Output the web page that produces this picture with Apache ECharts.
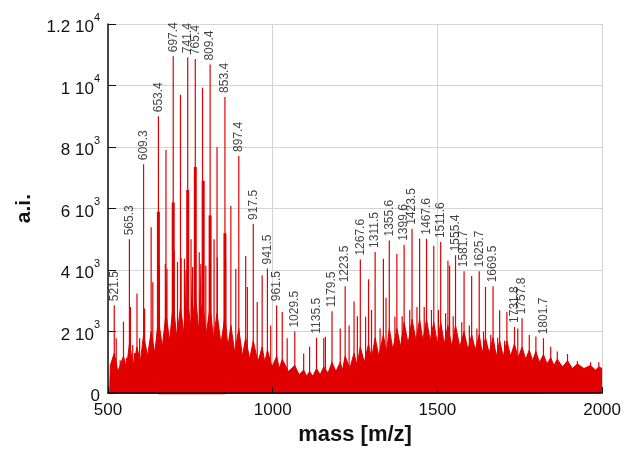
<!DOCTYPE html>
<html>
<head>
<meta charset="utf-8">
<script src="https://cdn.jsdelivr.net/npm/echarts@6/dist/echarts.min.js"></script>
<style>
html,body{margin:0;padding:0;background:#fff;}
#chart{width:624px;height:451px;}
</style>
</head>
<body>
<div id="chart"></div>
<script>
// ---- tick labels ----
const yTickValues = [0, 2000, 4000, 6000, 8000, 10000, 12000];
const yTickMant = ['0', '2 10', '4 10', '6 10', '8 10', '1 10', '1.2 10'];
const yTickExp = ['', '3', '3', '3', '3', '4', '4'];
const xTickValues = [500, 1000, 1500, 2000];

// ---- labelled peaks (position on the drawn m/z axis, intensity, label) ----
const labelText = ['521.5','565.3','609.3','653.4','697.4','741.4','765.4','809.4','853.4','897.4',
  '917.5','941.5','961.5','1029.5','1135.5','1179.5','1223.5','1267.6','1311.5','1355.6',
  '1399.6','1423.5','1467.6','1511.6','1555.4','1581.7','1625.7','1669.5','1731.8','1757.8','1801.7'];
const labelPos = [519,565,608,653,698,742,765,810,855,897,
  941,984,1012,1067,1133,1180,1220,1266,1311,1354,
  1399,1423,1467,1510,1555,1581,1627,1669,1734,1757,1822];
const labelInt = [2860,5000,7440,9000,10950,10920,10860,10680,9630,7710,
  5500,4050,2860,2000,1800,2660,3470,4340,4590,4960,
  4820,5340,5020,4910,4480,3960,3960,3470,2150,2430,1780];

// ---- other major peaks (unlabelled) ----
const majorPos = [547,588,631,676,720,787,831,873,918,968,1029,1155,1205,1247,1291,1336,1377,1446,1489,1532,1604,1646,1689,1711,1779,1799];
const majorInt = [2320,3240,5390,7900,9700,9930,8000,6080,4460,3830,2640,1780,2100,2980,3700,4370,4520,5030,4790,4300,3810,3450,2690,2640,1890,1840];

// ---- secondary / satellite peaks ----
const minorPos = [525,537,556,568,575,581,596,611,636,656,674,679,696,701,711,722,732,737,752,757,777,782,797,822,832,857,888,923,953,994,
  1044,1094,1112,1160,1232,1257,1282,1300,1326,1344,1371,1393,1416,1438,1460,1482,1503,1525,1537,1548,1574,1597,1620,1640,1662,1683,1704,
  1744,1844,1864,1895,1925,1965,1990];
const minorInt = [1780,1070,1150,2800,1560,1300,1780,2750,3600,4150,4200,4040,3500,4640,4260,4400,4370,4000,5000,4100,4580,4200,4150,5000,4420,4370,4040,3450,2960,2200,
  1780,1290,1510,1830,2200,2500,2480,2700,2100,3100,2480,2500,2700,2800,2800,2700,2700,2600,4150,2500,2300,2200,2100,2000,1900,1800,1700,
  2100,1510,1350,1270,1040,1000,1000];

// ---- thick lower parts of the strongest clusters ----
const clusterPos = [653,698,742,765,789,810,855];
const clusterInt = [5900,6200,6600,7350,6900,5770,5200];

// ---- dense noise floor (upper edge of the solid red band) ----
const envPos = [505,507,519,530,547,556,565,577,588,598,608,620,631,642,653,665,676,687,698,709,720,731,742,753,765,776,787,798,810,820,
  831,843,855,864,873,885,897,908,918,930,941,955,968,976,984,998,1012,1020,1029,1048,1067,1080,1094,1103,1112,1122,1133,1144,1155,1168,
  1180,1192,1205,1212,1220,1234,1247,1256,1266,1278,1291,1300,1311,1322,1336,1345,1354,1365,1377,1388,1399,1411,1423,1435,1446,1456,1467,1478,1489,1500,
  1510,1521,1532,1544,1555,1568,1581,1593,1604,1615,1627,1636,1646,1657,1669,1679,1689,1700,1711,1722,1734,1745,1757,1768,1779,1789,1799,1810,1822,1833,
  1844,1854,1864,1880,1895,1910,1925,1945,1965,1980,1990,2000];
const envInt = [0,900,1300,700,1200,800,1600,900,1500,1000,1900,1200,2000,1300,2400,1500,2600,1700,2900,1800,2800,1900,3000,2000,3200,2000,3000,1900,2800,1800,
  2600,1600,2500,1500,2200,1300,2100,1200,1800,1100,1700,1000,1500,1000,1400,850,1200,800,1100,700,900,600,750,550,700,550,800,600,850,650,
  1000,700,1000,750,1200,800,1300,900,1500,1000,1600,1100,1800,1200,1900,1300,2100,1400,2100,1500,2300,1600,2400,1700,2400,1700,2400,1700,2300,1600,
  2300,1600,2200,1500,2200,1500,2000,1400,1900,1400,1900,1300,1800,1300,1800,1200,1700,1200,1700,1200,1600,1150,1500,1100,1400,1050,1350,1000,1250,950,
  1150,900,1100,850,1050,800,950,800,900,750,850,800];

const FONT = 'Liberation Sans, Arial, sans-serif';
const RED = '#e00000';

function sticks(pos, ints) {
  const pairs = pos.map((m, i) => [m, ints[i]]).sort((a, b) => a[0] - b[0]);
  const d = [];
  pairs.forEach(p => { d.push([p[0], 0], [p[0], p[1]], [p[0], 0]); });
  return d;
}

const chart = echarts.init(document.getElementById('chart'), null, {renderer: 'canvas'});
chart.setOption({
  animation: false,
  backgroundColor: '#fff',
  grid: {left: 108, right: 19, top: 24, bottom: 56, containLabel: false},
  xAxis: [{
    type: 'value', min: 500, max: 2000, interval: 500, position: 'bottom',
    axisLine: {show: false}, axisTick: {show: false}, axisLabel: {show: false},
    splitLine: {show: true, lineStyle: {color: '#d4d4d4', width: 1}}
  }, {
    type: 'value', min: 500, max: 2000, interval: 500, position: 'bottom', z: 10,
    name: 'mass [m/z]', nameLocation: 'middle', nameGap: 30,
    nameTextStyle: {fontFamily: FONT, fontSize: 22, fontWeight: 'bold', color: '#111'},
    axisLine: {show: true, onZero: false, lineStyle: {color: '#111', width: 1.5}},
    axisTick: {show: true, inside: true, length: 6, lineStyle: {color: '#111'}},
    axisLabel: {fontFamily: FONT, fontSize: 17, color: '#111', margin: 9,
      formatter: v => (xTickValues.indexOf(v) >= 0 ? String(v) : '')},
    splitLine: {show: false}
  }],
  yAxis: {
    type: 'value', min: 0, max: 12000, interval: 2000,
    name: 'a.i.', nameLocation: 'middle', nameGap: 73, nameRotate: 90,
    nameTextStyle: {fontFamily: FONT, fontSize: 21, fontWeight: 'bold', color: '#111'},
    axisLine: {show: true, lineStyle: {color: '#111', width: 1.5}},
    axisTick: {show: true, inside: true, length: 8, lineStyle: {color: '#111'}},
    axisLabel: {
      margin: 8,
      formatter: v => {
        const i = yTickValues.indexOf(v);
        if (i < 0) return '';
        return yTickExp[i] ? '{m|' + yTickMant[i] + '}{e|' + yTickExp[i] + '}' : '{m|' + yTickMant[i] + '}';
      },
      rich: {
        m: {fontFamily: FONT, fontSize: 17, color: '#111', lineHeight: 24, verticalAlign: 'bottom'},
        e: {fontFamily: FONT, fontSize: 11, color: '#111', lineHeight: 12, verticalAlign: 'top'}
      }
    },
    splitLine: {show: true, lineStyle: {color: '#d4d4d4', width: 1}}
  },
  series: [
    {
      type: 'line', name: 'floor', data: envPos.map((m, i) => [m, envInt[i]]),
      showSymbol: false, silent: true, z: 2,
      lineStyle: {color: RED, width: 1}, areaStyle: {color: RED, opacity: 1}
    },
    {
      type: 'line', name: 'clusters', data: sticks(clusterPos, clusterInt),
      showSymbol: false, silent: true, z: 3,
      lineStyle: {color: RED, width: 3}
    },
    {
      type: 'line', name: 'minor', data: sticks(minorPos, minorInt),
      showSymbol: false, silent: true, z: 3,
      lineStyle: {color: RED, width: 1.2}
    },
    {
      type: 'line', name: 'major', data: sticks(majorPos, majorInt),
      showSymbol: false, silent: true, z: 4,
      lineStyle: {color: RED, width: 1.2}
    },
    {
      type: 'line', name: 'labelled', data: sticks(labelPos, labelInt),
      showSymbol: false, silent: true, z: 4,
      lineStyle: {color: RED, width: 1.2}
    },
    {
      type: 'scatter', name: 'labels', data: labelPos.map((m, i) => [m, labelInt[i]]),
      symbolSize: 0, silent: true, z: 5,
      label: {
        show: true, position: 'top', distance: 4, rotate: 90,
        align: 'left', verticalAlign: 'middle',
        fontFamily: FONT, fontSize: 12, color: '#111',
        formatter: p => labelText[p.dataIndex]
      }
    }
  ]
});
</script>
</body>
</html>
